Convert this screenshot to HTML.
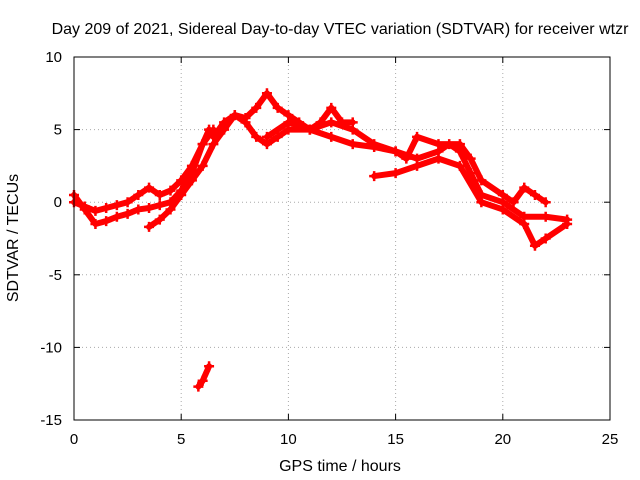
<!DOCTYPE html>
<html><head><meta charset="utf-8"><style>
body{margin:0;background:#fff;}
svg{display:block;font-family:"Liberation Sans",sans-serif;}
</style></head><body>
<svg id="chart" width="640" height="480">
<text x="340" y="34" font-size="16" text-anchor="middle">Day 209 of 2021, Sidereal Day-to-day VTEC variation (SDTVAR) for receiver wtzr</text>
<text x="340" y="471" font-size="16" text-anchor="middle">GPS time / hours</text>
<text transform="translate(18,238) rotate(-90)" font-size="16" text-anchor="middle">SDTVAR / TECUs</text>
<g id="grid"></g><g id="ticks"></g><g id="marks"></g>
<rect x="74" y="57" width="536" height="363" fill="none" stroke="#000" stroke-width="1"/>
</svg>
<script>
const xTicks=[0,5,10,15,20,25];
const yTicks=[10,5,0,-5,-10,-15];
const trackA_x=[0,0.5,1,1.5,2,2.5,3,3.5,4,4.5,5,5.5,6,6.5];
const trackA_y=[0.5,-0.5,-1.5,-1.3,-1,-0.8,-0.5,-0.4,-0.2,0,0.8,2,4,5];
const trackB_x=[0,0.5,1,1.5,2,2.5,3,3.5,4,4.5,5,5.5,6,6.3];
const trackB_y=[0,-0.3,-0.6,-0.4,-0.2,0,0.5,1,0.5,0.8,1.5,2.5,4,5];
const trackC_x=[3.5,4,4.5,5,5.5,6,6.5,7,7.5,8,8.5,9,9.5,10,11,12,13,14,15,16,17,17.5,18,18.5,19,20,21,22,23];
const trackC_y=[-1.7,-1.2,-0.5,0.5,1.5,2.5,4,5,6,5.5,4.5,4,4.5,5,5,4.5,4,3.8,3.5,3,3.5,4,3.5,2,0.5,0,-1,-1,-1.2];
const trackD_x=[6.5,7,7.5,8,8.5,9,9.5,10,10.5,11,11.5,12,12.5,13];
const trackD_y=[4.5,5.5,6,5.8,6.5,7.5,6.5,6,5.5,5,5.5,6.5,5.5,5.5];
const trackE_x=[9,10,11,12,13,14,15,15.5,16,17,18,18.5,19,20,20.5,21,21.5,22];
const trackE_y=[4.5,5.5,5,5.5,5,4,3.5,3,4.5,4,4,3,1.5,0.5,0,1,0.5,0];
const trackF_x=[14,15,16,17,18,19,20,21,21.5,22,23];
const trackF_y=[1.8,2,2.5,3,2.5,0,-0.5,-1.5,-3,-2.5,-1.5];
const trackG_x=[5.8,6,6.3];
const trackG_y=[-12.7,-12.3,-11.3];
const tracksX=[trackA_x,trackB_x,trackC_x,trackD_x,trackE_x,trackF_x,trackG_x];
const tracksY=[trackA_y,trackB_y,trackC_y,trackD_y,trackE_y,trackF_y,trackG_y];

const X0=74,X1=610,Y0=420,Y1=57;
const sx=v=>X0+(v-0)/(25-0)*(X1-X0);
const sy=v=>Y0-(v+15)/(10+15)*(Y0-Y1);
const NS="http://www.w3.org/2000/svg";
const grid=document.getElementById('grid'),ticks=document.getElementById('ticks'),marks=document.getElementById('marks');
function mk(tag,attrs,parent){const e=document.createElementNS(NS,tag);for(const k in attrs)e.setAttribute(k,attrs[k]);parent.appendChild(e);return e;}
xTicks.forEach(t=>{
  const x=sx(t);
  const g=mk('line',{x1:x,x2:x,y1:Y1,y2:Y0,stroke:'#aaa','stroke-dasharray':'1,3'},grid);
  
  
  const l=mk('text',{x:x,y:Y0+24,'font-size':15,'text-anchor':'middle'},ticks);
  l.textContent=t;
  
  
  mk('line',{x1:x,x2:x,y1:Y0,y2:Y0-6,stroke:'#000'},ticks);
  mk('line',{x1:x,x2:x,y1:Y1,y2:Y1+6,stroke:'#000'},ticks);
});
yTicks.forEach(t=>{
  const y=sy(t);
  const g=mk('line',{x1:X0,x2:X1,y1:y,y2:y,stroke:'#aaa','stroke-dasharray':'1,3'},grid);
  
  
  const l=mk('text',{x:X0-12,y:y+5,'font-size':15,'text-anchor':'end'},ticks);
  l.textContent=t;
  
  
  mk('line',{x1:X0,x2:X0+6,y1:y,y2:y,stroke:'#000'},ticks);
  mk('line',{x1:X1,x2:X1-6,y1:y,y2:y,stroke:'#000'},ticks);
});
tracksX.forEach((xs,i)=>{
  const ys=tracksY[i];
  const pts=xs.map((v,j)=>sx(v)+','+sy(ys[j])).join(' ');
  const pl=mk('polyline',{points:pts,fill:'none',stroke:'#f00','stroke-width':6,'stroke-linejoin':'round','stroke-linecap':'round'},marks);
  
  
  xs.forEach((v,j)=>{
    const cx=sx(v),cy=sy(ys[j]);
    const p=mk('path',{d:`M${cx-5},${cy}H${cx+5}M${cx},${cy-5}V${cy+5}`,stroke:'#f00','stroke-width':2.5},marks);
    
    
  });
});
</script>
</body></html>
